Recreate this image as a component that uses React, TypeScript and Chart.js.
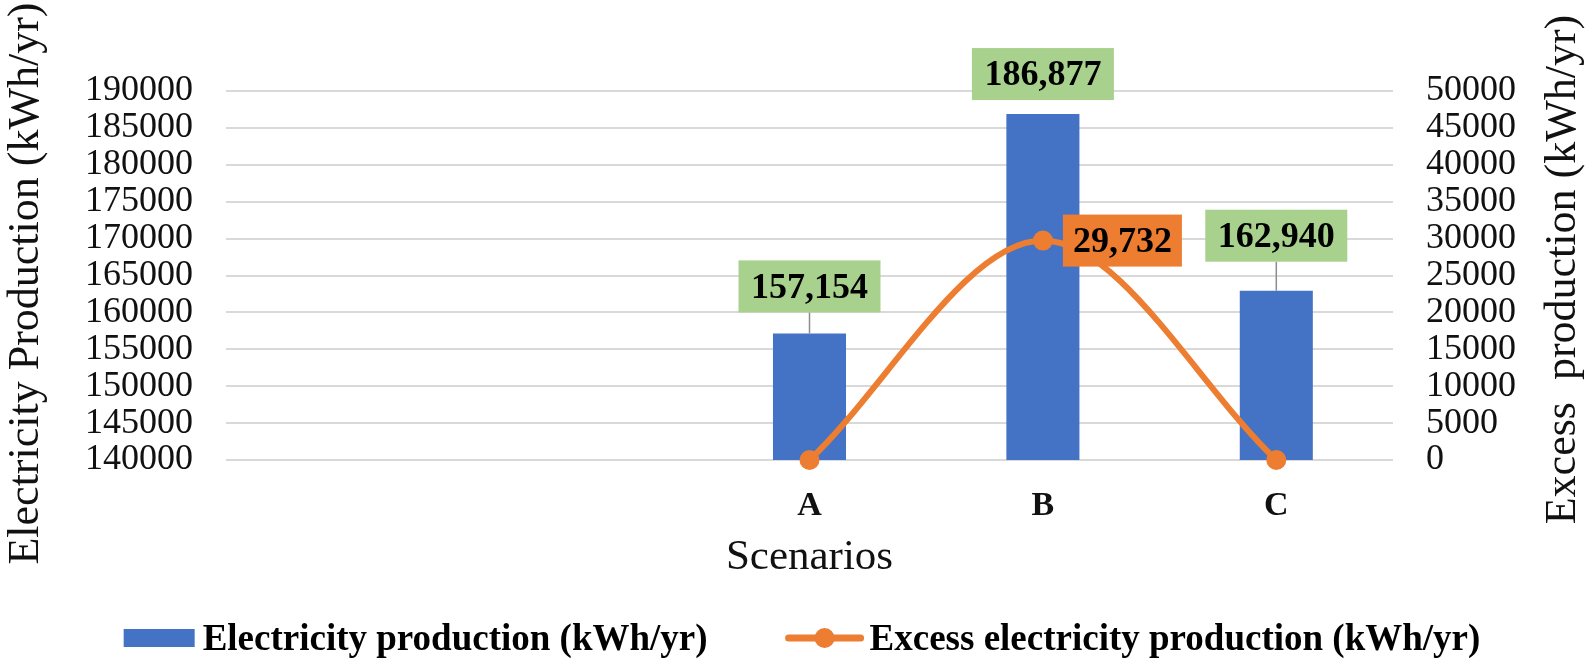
import React, { useEffect, useRef } from 'react';
import { Chart, ChartConfiguration, Plugin, registerables } from 'chart.js';

Chart.register(...registerables);

// data
const scenarios = ['', '', 'A', 'B', 'C'];
const electricityProduction = [null, null, 157154, 186877, 162940];
const excessProduction = [null, null, 0, 29732, 0];
const seriesNames = ['Electricity production (kWh/yr)', 'Excess electricity production (kWh/yr)'];
const leftTicks = [140000, 145000, 150000, 155000, 160000, 165000, 170000, 175000, 180000, 185000, 190000];
const rightTicks = [0, 5000, 10000, 15000, 20000, 25000, 30000, 35000, 40000, 45000, 50000];
const leftTitle = 'Electricity Production (kWh/yr)';
const rightTitle = 'Excess  production (kWh/yr)';

const SERIF = '"Times New Roman", "Liberation Serif", serif';
const BLUE = '#4472C4';
const ORANGE = '#ED7D31';
const GREEN = '#A9D18E';
const TEXT = '#111111';

// vertical gap between bar top and its label box (Excel labels were nudged by hand)
const barLabelGap = [0, 0, 21, 14, 29];

const fmt = (v: number) => v.toLocaleString('en-US');

const valueLabels: Plugin = {
    id: 'valueLabels',
    afterDatasetsDraw(chart) {
        const { ctx } = chart;
        ctx.save();
        ctx.font = `bold 36px ${SERIF}`;
        ctx.textAlign = 'center';
        ctx.textBaseline = 'middle';

        // bar labels: green boxes with leader lines
        const barMeta = chart.getDatasetMeta(0);
        barMeta.data.forEach((el: any, i) => {
            const v = chart.data.datasets[0].data[i] as number | null;
            if (v == null) return;
            const text = fmt(v);
            const w = ctx.measureText(text).width + 25;
            const h = 52;
            const bottom = el.y - barLabelGap[i];
            if (barLabelGap[i] > 16) {
                ctx.strokeStyle = '#8c8c8c';
                ctx.lineWidth = 1.5;
                ctx.beginPath();
                ctx.moveTo(el.x, el.y);
                ctx.lineTo(el.x, bottom);
                ctx.stroke();
            }
            ctx.fillStyle = GREEN;
            ctx.fillRect(el.x - w / 2, bottom - h, w, h);
            ctx.fillStyle = '#000';
            ctx.fillText(text, el.x, bottom - h / 2 + 2);
        });

        // line labels: orange box to the right of the point
        const lineMeta = chart.getDatasetMeta(1);
        lineMeta.data.forEach((el: any, i) => {
            const v = chart.data.datasets[1].data[i] as number | null;
            if (v == null || v === 0) return;
            const text = fmt(v);
            const w = ctx.measureText(text).width + 20;
            const h = 52;
            const left = el.x + 20;
            ctx.fillStyle = ORANGE;
            ctx.fillRect(left, el.y - h / 2, w, h);
            ctx.fillStyle = '#000';
            ctx.fillText(text, left + w / 2, el.y + 2);
        });
        ctx.restore();
    },
};

// both axis titles read bottom-to-top in the reference
const axisTitles: Plugin = {
    id: 'axisTitles',
    afterDraw(chart) {
        const { ctx, chartArea } = chart;
        const mid = (chartArea.top + chartArea.bottom) / 2;
        const draw = (text: string, x: number, y: number) => {
            ctx.save();
            ctx.font = `44px ${SERIF}`;
            ctx.fillStyle = TEXT;
            ctx.textAlign = 'center';
            ctx.textBaseline = 'middle';
            ctx.translate(x, y);
            ctx.rotate(-Math.PI / 2);
            ctx.fillText(text, 0, 0);
            ctx.restore();
        };
        draw(leftTitle, chart.scales.y.left + 26, mid + 8);
        draw(rightTitle, chart.scales.y1.right - 29, mid - 6);
    },
};

const bottomLegend: Plugin = {
    id: 'bottomLegend',
    afterDraw(chart) {
        const { ctx } = chart;
        ctx.save();
        ctx.font = `bold 37px ${SERIF}`;
        ctx.textBaseline = 'middle';
        ctx.textAlign = 'left';
        const y = 638;
        const w1 = ctx.measureText(seriesNames[0]).width;
        const w2 = ctx.measureText(seriesNames[1]).width;
        const total = 71 + 8 + w1 + 78 + 78 + 6 + w2;
        let x = 802 - total / 2;

        ctx.fillStyle = BLUE;
        ctx.fillRect(x, y - 9, 71, 18);
        x += 71 + 8;
        ctx.fillStyle = '#000';
        ctx.fillText(seriesNames[0], x, y + 2);
        x += w1 + 78;

        ctx.strokeStyle = ORANGE;
        ctx.lineWidth = 7;
        ctx.lineCap = 'round';
        ctx.beginPath();
        ctx.moveTo(x + 3, y);
        ctx.lineTo(x + 75, y);
        ctx.stroke();
        ctx.fillStyle = ORANGE;
        ctx.beginPath();
        ctx.arc(x + 39, y, 10, 0, Math.PI * 2);
        ctx.fill();
        x += 78 + 6;
        ctx.fillStyle = '#000';
        ctx.fillText(seriesNames[1], x, y + 2);
        ctx.restore();
    },
};

const ProductionChart: React.FC = () => {
    const canvasRef = useRef<HTMLCanvasElement>(null);
    const chartRef = useRef<Chart | null>(null);

    useEffect(() => {
        if (!canvasRef.current) return;
        if (chartRef.current) {
            chartRef.current.destroy();
        }
        const ctx = canvasRef.current.getContext('2d');
        if (!ctx) return;

        const config: ChartConfiguration = {
            type: 'bar',
            data: {
                labels: scenarios,
                datasets: [
                    {
                        type: 'bar',
                        label: seriesNames[0],
                        data: electricityProduction,
                        backgroundColor: BLUE,
                        yAxisID: 'y',
                        categoryPercentage: 1,
                        barPercentage: 0.313,
                        order: 1,
                    },
                    {
                        type: 'line',
                        label: seriesNames[1],
                        data: excessProduction,
                        borderColor: ORANGE,
                        backgroundColor: ORANGE,
                        borderWidth: 6,
                        pointRadius: 10,
                        pointBackgroundColor: ORANGE,
                        pointBorderWidth: 0,
                        tension: 0.33,
                        spanGaps: true,
                        clip: false,
                        yAxisID: 'y1',
                        order: 0,
                    } as any,
                ],
            },
            options: {
                responsive: true,
                maintainAspectRatio: false,
                animation: false,
                layout: { padding: { top: 91, bottom: 84, left: 0, right: 0 } },
                plugins: {
                    legend: { display: false },
                    tooltip: { enabled: false },
                },
                scales: {
                    x: {
                        grid: { display: false },
                        border: { display: false },
                        ticks: {
                            color: TEXT,
                            padding: 21,
                            font: { family: SERIF, size: 34, weight: 'bold', lineHeight: 1 },
                        },
                        title: {
                            display: true,
                            text: 'Scenarios',
                            color: TEXT,
                            padding: { top: 0, bottom: 1 },
                            font: { family: SERIF, size: 43, lineHeight: 1 },
                        },
                        afterFit: (scale) => { scale.height = 120; },
                    },
                    y: {
                        position: 'left',
                        min: 140000,
                        max: 190000,
                        afterBuildTicks: (scale) => { scale.ticks = leftTicks.map((value) => ({ value })); },
                        grid: { color: '#d9d9d9', lineWidth: 2, drawTicks: false },
                        border: { display: false },
                        ticks: {
                            color: TEXT,
                            padding: 33,
                            autoSkip: false,
                            callback: (v) => String(v),
                            font: { family: SERIF, size: 36, lineHeight: 1 },
                        },
                        title: { display: false },
                        afterFit: (scale) => { scale.width = 226; },
                    },
                    y1: {
                        position: 'right',
                        min: 0,
                        max: 50000,
                        afterBuildTicks: (scale) => { scale.ticks = rightTicks.map((value) => ({ value })); },
                        grid: { display: false, drawTicks: false },
                        border: { display: false },
                        ticks: {
                            color: TEXT,
                            padding: 33,
                            autoSkip: false,
                            callback: (v) => String(v),
                            font: { family: SERIF, size: 36, lineHeight: 1 },
                        },
                        title: { display: false },
                        afterFit: (scale) => { scale.width = 199; },
                    },
                },
            },
            plugins: [valueLabels, axisTitles, bottomLegend],
        };

        chartRef.current = new Chart(ctx, config);

        return () => {
            if (chartRef.current) {
                chartRef.current.destroy();
                chartRef.current = null;
            }
        };
    }, []);

    return <canvas ref={canvasRef} />;
};

export default function App() {
    return (
        <div style={{ position: 'fixed', left: 0, top: 0, width: 1592, height: 664, background: '#fff' }}>
            <ProductionChart />
        </div>
    );
}
